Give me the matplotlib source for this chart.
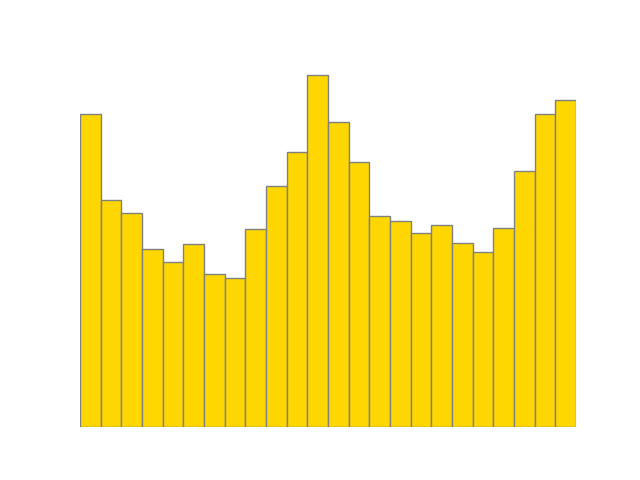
import matplotlib
matplotlib.use("Agg")
import matplotlib.pyplot as plt
import numpy as np

hours = list(range(24))
values = [89.1, 64.5, 60.8, 50.5, 46.9, 52.0, 43.4, 42.5, 56.3, 68.6, 78.1, 100.0,
          86.8, 75.3, 60.0, 58.5, 55.2, 57.4, 52.3, 49.8, 56.5, 72.9, 89.1, 93.0]

fig, ax = plt.subplots(figsize=(6.4, 4.8), dpi=100)
ax.bar(hours, values, width=1.0, align='edge', color='#FFD700', edgecolor='#808080', linewidth=1.0)
ax.set_xlim(0, 24)
ax.set_ylim(0, max(values) * 1.05)
ax.axis('off')
fig.savefig('out.png', dpi=100)
